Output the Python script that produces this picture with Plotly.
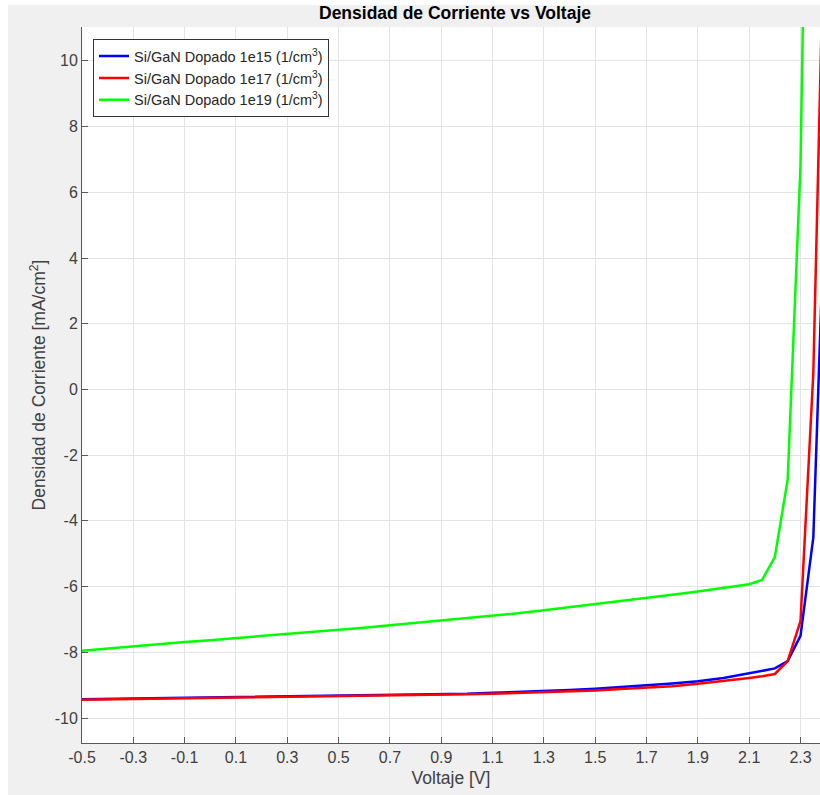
import plotly.graph_objects as go

voltage = [-0.5, -0.4, -0.3, -0.2, -0.1, 0.0, 0.1, 0.2, 0.3, 0.4, 0.5, 0.6, 0.7, 0.8, 0.9,
           1.0, 1.1, 1.2, 1.3, 1.4, 1.5, 1.6, 1.7, 1.8, 1.9, 2.0, 2.1, 2.15, 2.2, 2.25,
           2.3, 2.35, 2.4]

j_1e15 = [-9.43, -9.42, -9.41, -9.40, -9.39, -9.38, -9.37, -9.36, -9.35, -9.34, -9.33,
          -9.32, -9.31, -9.29, -9.28, -9.26, -9.23, -9.21, -9.18, -9.15, -9.11, -9.06,
          -9.01, -8.95, -8.88, -8.78, -8.64, -8.57, -8.49, -8.27, -7.5, -4.5, 7.1]

j_1e17 = [-9.44, -9.43, -9.42, -9.41, -9.40, -9.39, -9.38, -9.37, -9.36, -9.35, -9.35,
          -9.34, -9.33, -9.31, -9.30, -9.28, -9.26, -9.24, -9.22, -9.19, -9.16, -9.12,
          -9.08, -9.03, -8.96, -8.88, -8.78, -8.73, -8.66, -8.27, -7.05, 0.5, 17.0]

j_1e19 = [-7.95, -7.88, -7.82, -7.75, -7.69, -7.63, -7.57, -7.51, -7.45, -7.39, -7.32,
          -7.25, -7.18, -7.11, -7.04, -6.97, -6.89, -6.81, -6.72, -6.63, -6.54, -6.45,
          -6.35, -6.25, -6.15, -6.04, -5.93, -5.80, -5.10, -2.75, 6.8, 30.0, 60.0]

series_names = ["Si/GaN Dopado 1e15 (1/cm<sup>3</sup>)",
                "Si/GaN Dopado 1e17 (1/cm<sup>3</sup>)",
                "Si/GaN Dopado 1e19 (1/cm<sup>3</sup>)"]
series_colors = ["#0000ff", "#ff0000", "#00ff00"]

x_ticks = [-0.5, -0.3, -0.1, 0.1, 0.3, 0.5, 0.7, 0.9, 1.1, 1.3, 1.5, 1.7, 1.9, 2.1, 2.3]
x_ticktext = ["-0.5", "-0.3", "-0.1", "0.1", "0.3", "0.5", "0.7", "0.9", "1.1", "1.3",
              "1.5", "1.7", "1.9", "2.1", "2.3"]
y_ticks = [-10, -8, -6, -4, -2, 0, 2, 4, 6, 8, 10]
y_ticktext = ["-10", "-8", "-6", "-4", "-2", "0", "2", "4", "6", "8", "10"]

FONT = "Liberation Sans, Arial, Helvetica, sans-serif"
AX = "#404040"

fig = go.Figure()
for name, ys, col in zip(series_names, [j_1e15, j_1e17, j_1e19], series_colors):
    fig.add_trace(go.Scatter(x=voltage, y=ys, mode="lines", name=name,
                             line=dict(color=col, width=2.5)))

fig.update_layout(
    width=820, height=795,
    margin=dict(l=82, r=0, t=27, b=52),
    paper_bgcolor="#f0f0f0",
    plot_bgcolor="#ffffff",
    font=dict(family=FONT, color=AX),
    title=dict(text="<b>Densidad de Corriente vs Voltaje</b>",
               x=455 / 820, xref="container", xanchor="center",
               y=1 - 13 / 795, yref="container", yanchor="middle",
               font=dict(family=FONT, size=17.5, color="#000000")),
    showlegend=True,
    legend=dict(x=0.0149, y=0.983, xanchor="left", yanchor="top",
                bgcolor="#ffffff", bordercolor="#333333", borderwidth=1,
                font=dict(family=FONT, size=14.5, color="#262626"),
                tracegroupgap=0, itemwidth=30),
)

fig.update_xaxes(
    range=[-0.5, 2.376], tickvals=x_ticks, ticktext=x_ticktext,
    showgrid=True, gridcolor="#e3e3e3", gridwidth=1, zeroline=False,
    showline=True, linecolor="#595959", linewidth=1,
    ticks="inside", ticklen=6, tickcolor="#595959",
    tickfont=dict(family=FONT, size=16, color=AX),
    title=dict(text="Voltaje [V]", font=dict(family=FONT, size=17.5, color=AX), standoff=6),
)
fig.update_yaxes(
    range=[-10.76, 11.03], tickvals=y_ticks, ticktext=y_ticktext,
    showgrid=True, gridcolor="#e3e3e3", gridwidth=1, zeroline=False,
    showline=True, linecolor="#595959", linewidth=1,
    ticks="inside", ticklen=6, tickcolor="#595959",
    tickfont=dict(family=FONT, size=16, color=AX),
    title=dict(text="Densidad de Corriente [mA/cm<sup>2</sup>]",
               font=dict(family=FONT, size=17.5, color=AX), standoff=4),
)

# white border around the gray figure background (as in the screenshot)
fig.add_shape(type="rect", xref="paper", yref="paper", x0=-0.12, x1=-0.1003,
              y0=-0.1, y1=1.06, fillcolor="#ffffff", line=dict(width=0), layer="below")
fig.add_shape(type="rect", xref="paper", yref="paper", x0=-0.12, x1=1.01,
              y0=1.0307, y1=1.06, fillcolor="#ffffff", line=dict(width=0), layer="below")

fig.write_html("out.html")
